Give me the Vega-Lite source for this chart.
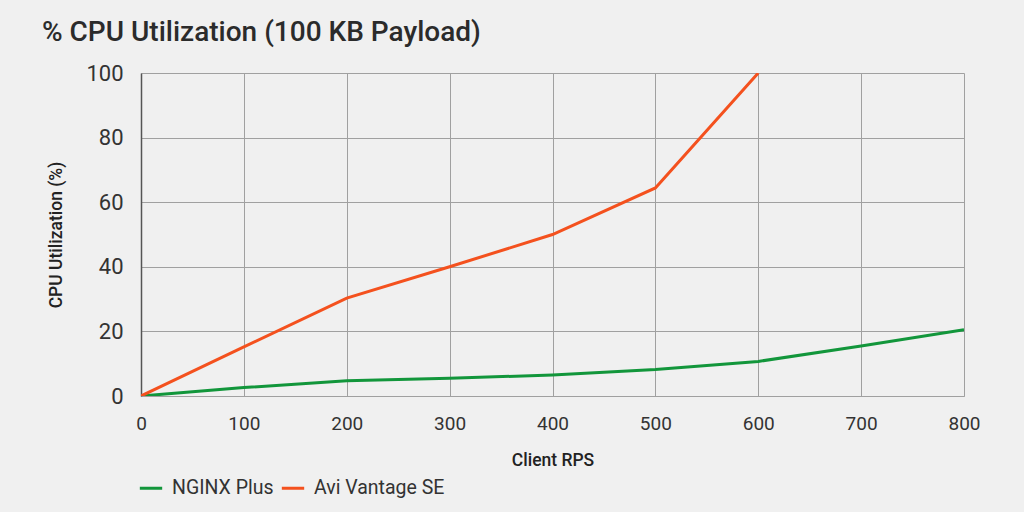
{
  "$schema": "https://vega.github.io/schema/vega-lite/v6.json",
  "autosize": "none",
  "padding": {"left": 141, "top": 73, "right": 60, "bottom": 116},
  "width": 823,
  "height": 323,
  "background": "#f0f0f0",
  "title": {
    "text": "% CPU Utilization (100 KB Payload)",
    "anchor": "start",
    "frame": "group",
    "dx": -99,
    "offset": 15,
    "font": "Roboto",
    "fontSize": 28,
    "fontWeight": 500,
    "color": "#2b2b2b"
  },
  "config": {
    "view": {"stroke": null},
    "font": "Roboto"
  },
  "data": {
    "values": [
      {"rps": 0, "cpu": 0, "server": "NGINX Plus"},
      {"rps": 100, "cpu": 2.6, "server": "NGINX Plus"},
      {"rps": 200, "cpu": 4.7, "server": "NGINX Plus"},
      {"rps": 300, "cpu": 5.5, "server": "NGINX Plus"},
      {"rps": 400, "cpu": 6.5, "server": "NGINX Plus"},
      {"rps": 500, "cpu": 8.2, "server": "NGINX Plus"},
      {"rps": 600, "cpu": 10.7, "server": "NGINX Plus"},
      {"rps": 700, "cpu": 15.5, "server": "NGINX Plus"},
      {"rps": 800, "cpu": 20.5, "server": "NGINX Plus"},
      {"rps": 0, "cpu": 0, "server": "Avi Vantage SE"},
      {"rps": 100, "cpu": 15.2, "server": "Avi Vantage SE"},
      {"rps": 200, "cpu": 30.3, "server": "Avi Vantage SE"},
      {"rps": 300, "cpu": 40, "server": "Avi Vantage SE"},
      {"rps": 400, "cpu": 50, "server": "Avi Vantage SE"},
      {"rps": 500, "cpu": 64.4, "server": "Avi Vantage SE"},
      {"rps": 600, "cpu": 100, "server": "Avi Vantage SE"}
    ]
  },
  "mark": {"type": "line", "strokeWidth": 3, "clip": true},
  "encoding": {
    "x": {
      "field": "rps",
      "type": "quantitative",
      "title": "Client RPS",
      "scale": {"domain": [0, 800], "nice": false},
      "axis": {
        "values": [0, 100, 200, 300, 400, 500, 600, 700, 800],
        "ticks": false,
        "labelFlush": false,
        "labelFontSize": 19,
        "labelColor": "#333333",
        "labelPadding": 18,
        "titleFontSize": 17.5,
        "titleFontWeight": 500,
        "titleColor": "#222222",
        "titlePadding": 18,
        "domainColor": "#a0a0a0",
        "gridColor": "#a0a0a0",
        "gridWidth": 1
      }
    },
    "y": {
      "field": "cpu",
      "type": "quantitative",
      "title": "CPU Utilization (%)",
      "scale": {"domain": [0, 100], "nice": false},
      "axis": {
        "values": [0, 20, 40, 60, 80, 100],
        "ticks": false,
        "labelFlush": false,
        "labelFontSize": 22,
        "labelColor": "#333333",
        "labelPadding": 18,
        "titleFontSize": 17.5,
        "titleFontWeight": 500,
        "titleColor": "#222222",
        "titlePadding": 20,
        "domainColor": "#555555",
        "domainWidth": 1.5,
        "gridColor": "#a0a0a0",
        "gridWidth": 1
      }
    },
    "color": {
      "field": "server",
      "type": "nominal",
      "sort": ["NGINX Plus", "Avi Vantage SE"],
      "scale": {
        "domain": ["NGINX Plus", "Avi Vantage SE"],
        "range": ["#12963b", "#f4511e"]
      },
      "legend": {
        "title": null,
        "orient": "none",
        "direction": "horizontal",
        "legendX": -3,
        "legendY": 402,
        "symbolType": "stroke",
        "symbolSize": 500,
        "symbolStrokeWidth": 3,
        "labelFontSize": 19.5,
        "labelColor": "#333333",
        "labelOffset": 8,
        "columnPadding": 1
      }
    }
  }
}
